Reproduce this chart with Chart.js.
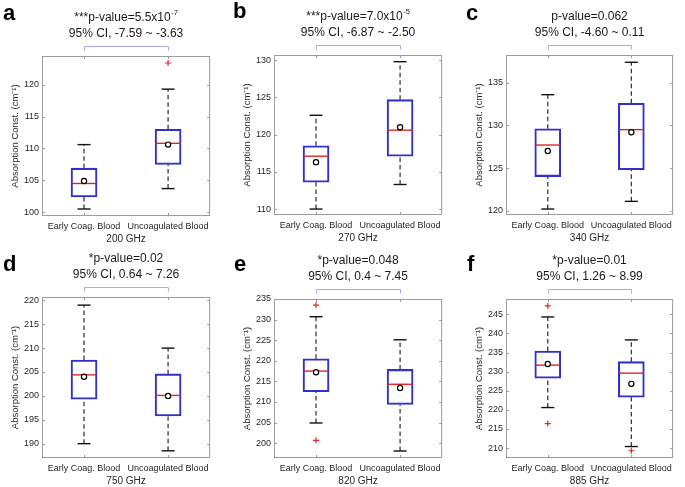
<!DOCTYPE html>
<html>
<head>
<meta charset="utf-8">
<script src="https://cdn.jsdelivr.net/npm/chart.js@4.4.1/dist/chart.umd.min.js"></script>
<style>
html, body { margin: 0; padding: 0; background: #fff; width: 685px; height: 487px; overflow: hidden; position: relative; }
canvas { position: absolute; }
.tag { position: absolute; font: bold 22px "Liberation Sans", Arial, sans-serif; line-height: 22px; color: #000; }
</style>
</head>
<body>
<script>
const categories = ['Early Coag. Blood', 'Uncoagulated Blood'];
const panelTags = ['a', 'b', 'c', 'd', 'e', 'f'];
const frequencies = ['200 GHz', '270 GHz', '340 GHz', '750 GHz', '820 GHz', '885 GHz'];
const pValueText = ['***p-value=5.5x10', '***p-value=7.0x10', 'p-value=0.062', '*p-value=0.02', '*p-value=0.048', '*p-value=0.01'];
const pValueExp = ['-7', '-5', '', '', '', ''];
const ciText = ['95% CI, -7.59 ~ -3.63', '95% CI, -6.87 ~ -2.50', '95% CI, -4.60 ~ 0.11',
                '95% CI, 0.64 ~ 7.26', '95% CI, 0.4 ~ 7.45', '95% CI, 1.26 ~ 8.99'];

// each pair is [early coag., uncoagulated]
const whiskerLow  = [[100.5, 103.7], [110.0, 113.3], [120.2, 121.1], [190.0, 188.5], [204.9, 198.1], [220.6, 210.4]];
const quartile1   = [[102.4, 107.5], [113.6, 117.1], [124.0, 124.8], [199.3, 195.8], [212.5, 209.4], [228.3, 223.3]];
const medians     = [[104.5, 110.8], [117.1, 120.6], [127.7, 129.5], [204.4, 200.1], [217.5, 214.3], [231.7, 229.6]];
const quartile3   = [[106.9, 113.0], [118.5, 124.7], [129.6, 132.6], [207.5, 204.6], [220.5, 217.9], [235.4, 232.6]];
const whiskerHigh = [[110.6, 119.3], [122.6, 129.8], [133.6, 137.4], [219.0, 210.0], [230.7, 225.1], [244.3, 238.3]];
const means       = [[104.9, 110.6], [116.3, 121.0], [127.0, 129.2], [204.0, 200.0], [217.2, 213.4], [232.0, 226.8]];
const outliers    = [[[], [123.4]], [[], []], [[], []], [[], []], [[233.5, 200.7], []], [[247.2, 216.4], [209.3]]];
const yMin = [99.4, 109.2, 119.5, 187.0, 196.4, 207.4];
const yMax = [124.5, 130.7, 138.25, 220.7, 235.0, 249.0];
const yStep = 5;

// plot area of each panel on the page: left, top, right, bottom
const plotRects = [[42, 56, 218, 216], [274, 55, 450, 215], [506, 55, 681, 215],
                   [42, 297, 218, 458], [274, 299, 450, 458], [506, 299, 681, 458]];
const tagPos = [[3, 2], [233, 0], [466, 2], [3, 253], [234, 253], [467, 253]];

const FONT = '"Liberation Sans", Arial, sans-serif';
const TXT = '#262626';
Chart.defaults.font.family = FONT;

const boxDecor = {
  id: 'boxDecor',
  beforeDatasetsDraw(chart) {
    const {ctx, chartArea: a, scales: {x, y}} = chart;
    ctx.save();
    ctx.strokeStyle = '#9c9c9c';
    ctx.lineWidth = 1;
    ctx.strokeRect(a.left + 0.5, a.top + 0.5, a.width - 1, a.height - 1);
    ctx.beginPath();
    y.ticks.forEach(t => {
      const py = Math.round(y.getPixelForValue(t.value)) + 0.5;
      ctx.moveTo(a.left, py); ctx.lineTo(a.left + 3, py);
      ctx.moveTo(a.right, py); ctx.lineTo(a.right - 3, py);
    });
    categories.forEach((c, k) => {
      const px = Math.round(x.getPixelForValue(k)) + 0.5;
      ctx.moveTo(px, a.bottom); ctx.lineTo(px, a.bottom - 3);
      ctx.moveTo(px, a.top); ctx.lineTo(px, a.top + 3);
    });
    ctx.stroke();
    ctx.restore();
  },
  afterDraw(chart, args, opts) {
    const {ctx, chartArea: a, scales: {x}} = chart;
    const x0 = Math.round(x.getPixelForValue(0)) + 0.5;
    const x1 = Math.round(x.getPixelForValue(1)) + 0.5;
    const by = Math.round(a.top - 10.5) + 0.5;
    ctx.save();
    // significance bracket
    ctx.strokeStyle = '#a9a9e6';
    ctx.lineWidth = 1;
    ctx.beginPath();
    ctx.moveTo(x0, by + 4); ctx.lineTo(x0, by); ctx.lineTo(x1, by); ctx.lineTo(x1, by + 4);
    ctx.stroke();
    // two title lines
    const cx = (a.left + a.right) / 2;
    ctx.fillStyle = '#1a1a1a';
    ctx.textBaseline = 'middle';
    ctx.textAlign = 'left';
    ctx.font = '12px ' + FONT;
    const w1 = ctx.measureText(opts.p).width;
    ctx.font = '7.5px ' + FONT;
    const w2 = opts.exp ? ctx.measureText(opts.exp).width + 0.5 : 0;
    const sx = cx - (w1 + w2) / 2;
    ctx.font = '12px ' + FONT;
    ctx.fillText(opts.p, sx, a.top - 38.5);
    if (opts.exp) {
      ctx.font = '7.5px ' + FONT;
      ctx.fillText(opts.exp, sx + w1 + 0.5, a.top - 43);
    }
    ctx.font = '12px ' + FONT;
    ctx.textAlign = 'center';
    ctx.fillText(opts.ci, cx, a.top - 22.5);
    ctx.restore();
  }
};

plotRects.forEach((r, i) => {
  const [L, T, R, B] = r;
  const cv = document.createElement('canvas');
  const W = (R - L) + 50, H = (B - T) + 90;
  cv.width = W; cv.height = H;
  cv.style.left = (L - 44) + 'px';
  cv.style.top = (T - 58) + 'px';
  document.body.appendChild(cv);

  const tag = document.createElement('div');
  tag.className = 'tag';
  tag.textContent = panelTags[i];
  tag.style.left = tagPos[i][0] + 'px';
  tag.style.top = tagPos[i][1] + 'px';
  document.body.appendChild(tag);

  const whiskerPts = [], capPts = [], outPts = [];
  categories.forEach((c, k) => {
    whiskerPts.push({x: c, y: whiskerLow[i][k]}, {x: c, y: quartile1[i][k]}, {x: c, y: null},
                    {x: c, y: quartile3[i][k]}, {x: c, y: whiskerHigh[i][k]}, {x: c, y: null});
    capPts.push({x: c, y: whiskerLow[i][k]}, {x: c, y: whiskerHigh[i][k]});
    outliers[i][k].forEach(v => outPts.push({x: c, y: v}));
  });

  new Chart(cv, {
    type: 'bar',
    data: {
      labels: categories,
      datasets: [
        {
          type: 'line', data: whiskerPts, order: 5,
          borderColor: '#2a2a2a', borderWidth: 1.2, borderDash: [4.5, 3],
          pointRadius: 0, spanGaps: false
        },
        {
          type: 'bar', order: 4,
          data: quartile1[i].map((q, k) => [q, quartile3[i][k]]),
          backgroundColor: 'rgba(0,0,0,0)', borderColor: '#3030cc', borderWidth: 1.4,
          borderSkipped: false, barThickness: 26
        },
        {
          type: 'line', data: capPts, order: 3, showLine: false,
          pointStyle: 'line', pointRadius: 6.5, pointBorderColor: '#111', pointBorderWidth: 1.4
        },
        {
          type: 'line', data: medians[i], order: 2, showLine: false,
          pointStyle: 'line', pointRadius: 12.5, pointBorderColor: '#e02424', pointBorderWidth: 1.4
        },
        {
          type: 'line', data: means[i], order: 1, showLine: false,
          pointStyle: 'circle', pointRadius: 2.6, pointBorderColor: '#000',
          pointBackgroundColor: '#fff', pointBorderWidth: 1.2
        },
        {
          type: 'line', data: outPts, order: 0, showLine: false,
          pointStyle: 'cross', pointRadius: 3, pointBorderColor: '#e02424', pointBorderWidth: 1.2
        }
      ]
    },
    options: {
      responsive: false,
      animation: false,
      devicePixelRatio: 1,
      events: [],
      layout: {padding: {left: 12, top: 58, right: 6, bottom: 3}},
      plugins: {
        legend: {display: false},
        tooltip: {enabled: false},
        boxDecor: {p: pValueText[i], exp: pValueExp[i], ci: ciText[i]}
      },
      scales: {
        x: {
          offset: true,
          grid: {display: false, drawTicks: false},
          border: {display: false},
          ticks: {font: {size: 9}, color: TXT, padding: 5, maxRotation: 0, autoSkip: false},
          title: {display: true, text: frequencies[i], font: {size: 10}, color: TXT, padding: 0},
          afterFit(s) { s.height = 29; }
        },
        y: {
          min: yMin[i], max: yMax[i],
          grid: {display: false, drawTicks: false},
          border: {display: false},
          ticks: {stepSize: yStep, includeBounds: false, font: {size: 9}, color: TXT, padding: 3},
          title: {display: true, text: 'Absorption Const. (cm\u207B\u00B9)', font: {size: 9.5}, color: TXT, padding: 0},
          afterFit(s) { s.width = 32; }
        }
      }
    },
    plugins: [boxDecor]
  });
});
</script>
</body>
</html>
